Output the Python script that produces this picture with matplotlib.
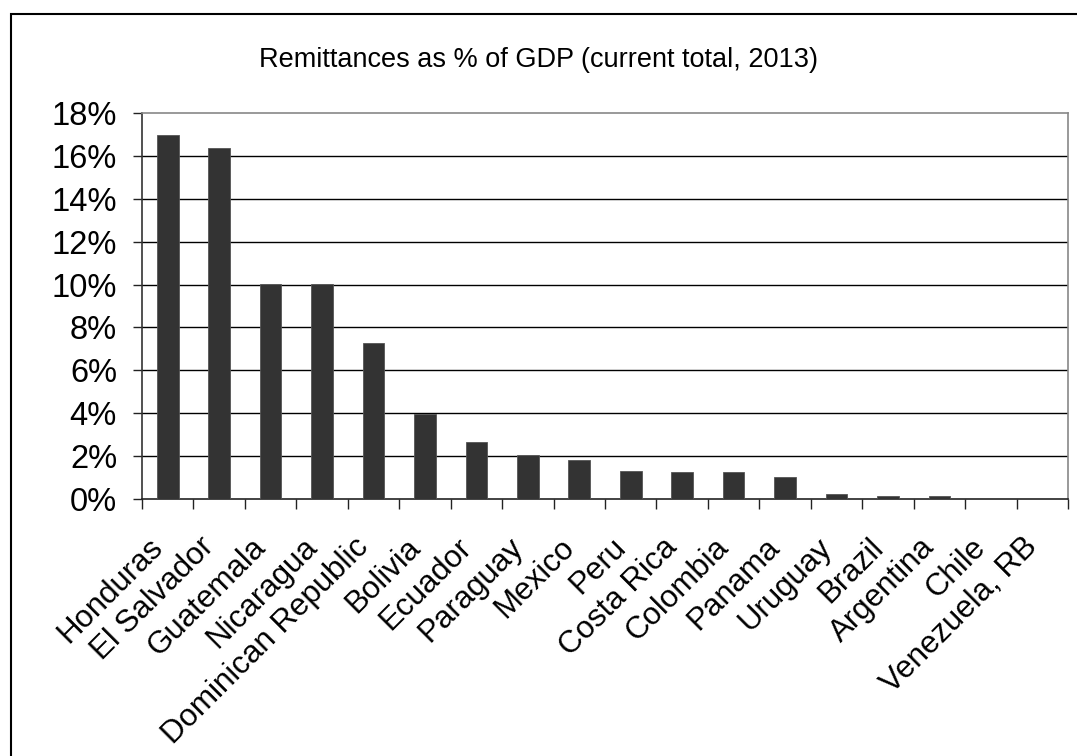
import matplotlib.pyplot as plt
from matplotlib.patches import Rectangle
from matplotlib.ticker import FuncFormatter

# remittances as share of GDP, 2013
countries = ['Honduras', 'El Salvador', 'Guatemala', 'Nicaragua', 'Dominican Republic',
             'Bolivia', 'Ecuador', 'Paraguay', 'Mexico', 'Peru', 'Costa Rica', 'Colombia',
             'Panama', 'Uruguay', 'Brazil', 'Argentina', 'Chile', 'Venezuela, RB']
remit_pct = [16.98, 16.37, 10.03, 10.03, 7.29, 3.95, 2.64, 2.03, 1.83, 1.32,
             1.24, 1.24, 1.02, 0.22, 0.12, 0.12, 0.0, 0.0]
yticks = [0, 2, 4, 6, 8, 10, 12, 14, 16, 18]

plt.rcParams['font.family'] = ['Liberation Sans', 'DejaVu Sans']

fig = plt.figure(figsize=(10.77, 7.56), dpi=100)

# outer chart border (only top and left visible in the original)
fig.patches.append(Rectangle((11 / 1077, -0.05), 1.2, 1 - 14 / 756 + 0.05,
                             transform=fig.transFigure, fill=False,
                             edgecolor='black', linewidth=1.5))

ax = fig.add_axes([142 / 1077, 1 - 499 / 756, (1068 - 142) / 1077, (499 - 113) / 756])

x = list(range(len(countries)))
ax.bar(x, remit_pct, width=0.42, color='#333333', edgecolor='#555555', linewidth=0.6, zorder=3)

ax.set_xlim(-0.5, len(countries) - 0.5)
ax.set_ylim(0, 18)
ax.set_yticks(yticks)
ax.yaxis.set_major_formatter(FuncFormatter(lambda v, p: f'{v:.0f}%'))
for t in yticks[1:-1]:
    ax.axhline(t, color='black', linewidth=1.0, zorder=1)

ax.set_xticks([i - 0.5 for i in range(len(countries) + 1)])
ax.set_xticklabels([])
ax.tick_params(axis='x', direction='out', length=7.5, width=1, color='#222222')
ax.tick_params(axis='y', direction='out', length=6.5, width=1, color='#222222',
               labelsize=23.5, pad=11.5)

for i, name in enumerate(countries):
    ax.annotate(name, xy=(i, 0), xycoords='data', xytext=(-20, -33),
                textcoords='offset pixels', rotation=45, rotation_mode='anchor',
                ha='right', va='top', fontsize=22.5)

ax.spines['left'].set_color('#333333')
ax.spines['bottom'].set_color('#222222')
ax.spines['top'].set_color('#888888')
ax.spines['right'].set_color('#888888')
for s in ax.spines.values():
    s.set_linewidth(1.2)

fig.text(0.5, 1 - 60 / 756, 'Remittances as % of GDP (current total, 2013)',
         ha='center', va='center', fontsize=19.5)

fig.savefig('out.png', dpi=100, facecolor='white')
